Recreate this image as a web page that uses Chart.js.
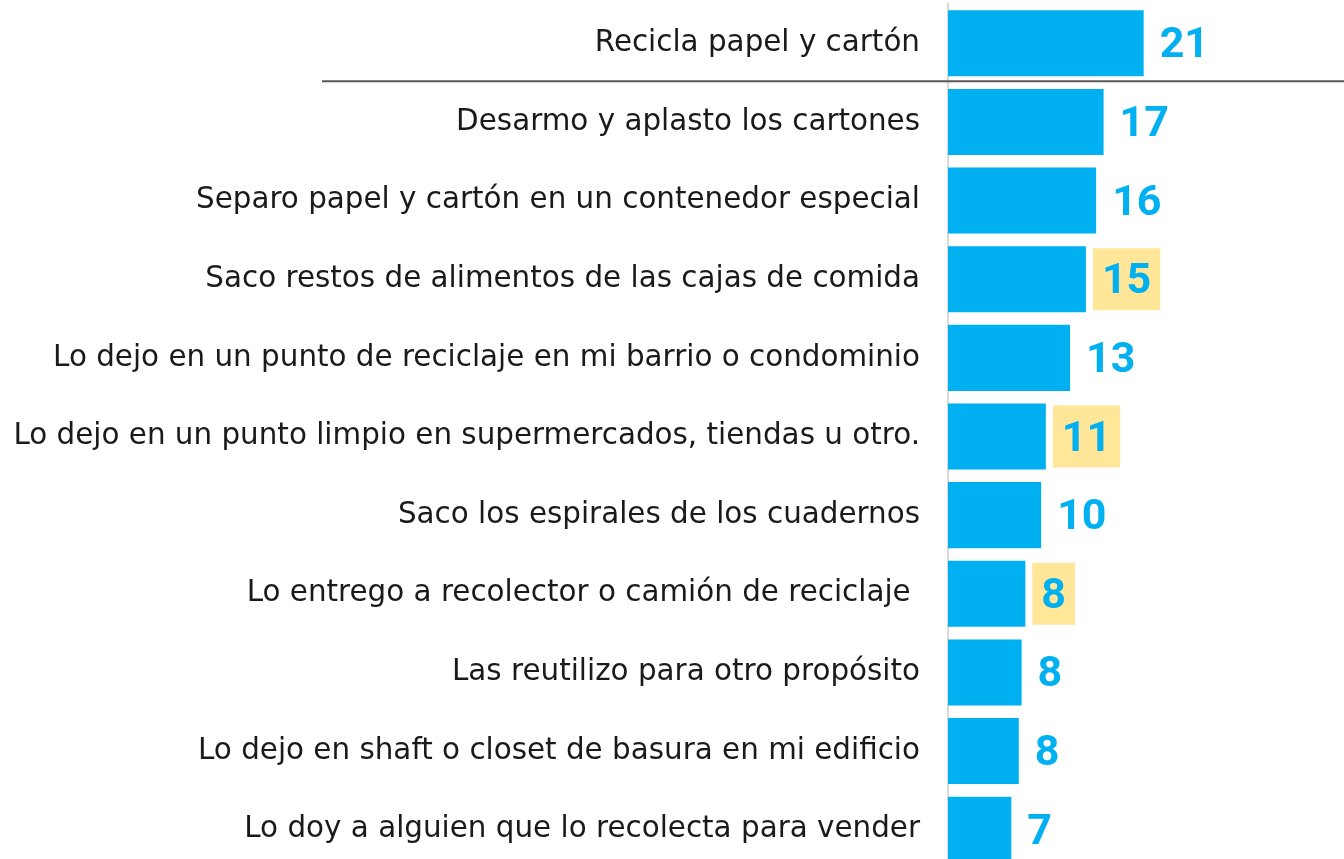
<!DOCTYPE html>
<html>
<head>
<meta charset="utf-8">
<script src="https://cdn.jsdelivr.net/npm/chart.js@4"></script>
<style>
  html, body { margin: 0; padding: 0; background: #fff; overflow: hidden; }
  #wrap { position: relative; width: 1344px; height: 869px; }
</style>
</head>
<body>
<div id="wrap"><canvas id="chart"></canvas></div>
<script>
const categories = [
    'Recicla papel y cartón',
    'Desarmo y aplasto los cartones',
    'Separo papel y cartón en un contenedor especial',
    'Saco restos de alimentos de las cajas de comida',
    'Lo dejo en un punto de reciclaje en mi barrio o condominio',
    'Lo dejo en un punto limpio en supermercados, tiendas u otro.',
    'Saco los espirales de los cuadernos',
    'Lo entrego a recolector o camión de reciclaje ',
    'Las reutilizo para otro propósito',
    'Lo dejo en shaft o closet de basura en mi edificio',
    'Lo doy a alguien que lo recolecta para vender'
];
const values = [21.0, 16.7, 15.9, 14.8, 13.1, 10.5, 10.0, 8.3, 7.9, 7.6, 6.8];
const highlighted = [3, 5, 7];

const BLUE = '#00b0f0';
const YELLOW = '#ffe699';
const labelFont = 'bold 43px Roboto';

const valueLabels = {
    id: 'valueLabels',
    afterDatasetsDraw(chart) {
        const ctx = chart.ctx;
        const meta = chart.getDatasetMeta(0);
        ctx.save();
        ctx.font = labelFont;
        meta.data.forEach((bar, i) => {
            const txt = String(Math.round(values[i]));
            const m = ctx.measureText(txt);
            const x = bar.x + 16;
            const h = m.actualBoundingBoxAscent + m.actualBoundingBoxDescent;
            if (highlighted.includes(i)) {
                const bh = bar.height - 4;
                ctx.fillStyle = YELLOW;
                ctx.fillRect(x - 9, bar.y - bh / 2, m.width + 18, bh);
            }
            ctx.fillStyle = BLUE;
            ctx.textAlign = 'left';
            ctx.textBaseline = 'alphabetic';
            ctx.fillText(txt, x, bar.y + h / 2 - m.actualBoundingBoxDescent - 1);
        });
        ctx.restore();
    }
};

const separator = {
    id: 'separator',
    afterDraw(chart) {
        const y = chart.scales.y;
        const ctx = chart.ctx;
        const yy = (y.getPixelForValue(0) + y.getPixelForValue(1)) / 2 - 1.5;
        ctx.save();
        ctx.strokeStyle = '#595959';
        ctx.lineWidth = 2;
        ctx.beginPath();
        ctx.moveTo(chart.chartArea.left - 626, yy);
        ctx.lineTo(chart.width, yy);
        ctx.stroke();
        ctx.restore();
    }
};

new Chart(document.getElementById('chart'), {
    type: 'bar',
    data: {
        labels: categories,
        datasets: [{
            data: values,
            backgroundColor: BLUE,
            borderWidth: 0,
            barPercentage: 0.84,
            categoryPercentage: 1
        }]
    },
    options: {
        indexAxis: 'y',
        responsive: true,
        maintainAspectRatio: false,
        animation: false,
        layout: { padding: { top: 4, left: 0, right: 0, bottom: 0 } },
        plugins: { legend: { display: false }, tooltip: { enabled: false } },
        scales: {
            x: { display: false, min: 0, max: 42.5 },
            y: {
                afterFit(scale) {
                    scale.width = 948;
                    scale.paddingTop = 0;
                    scale.paddingBottom = 0;
                },
                grid: { display: false, drawTicks: false },
                border: { display: true, color: '#d9d9d9', width: 2 },
                ticks: {
                    padding: 28,
                    color: '#1a1a1a',
                    font: { family: 'DejaVu Sans', size: 29.4 }
                }
            }
        }
    },
    plugins: [valueLabels, separator]
});
</script>
</body>
</html>
